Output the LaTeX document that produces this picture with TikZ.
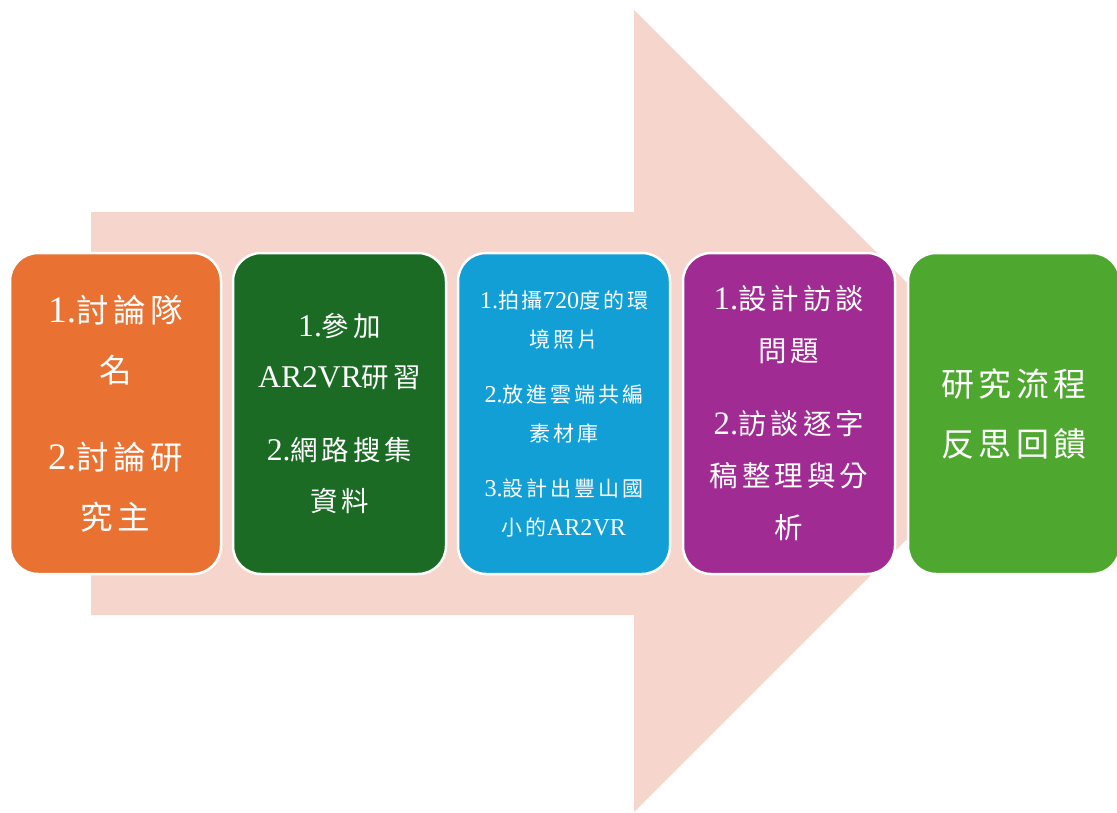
\documentclass[tikz,border=0pt]{standalone}
\usepackage{fontspec}
\setmainfont{Noto Sans CJK TC}[LetterSpace=14]
\newfontfamily\lat{Liberation Serif}[Scale=1.15]
\definecolor{arrowpink}{HTML}{F6D5CC}
\definecolor{corange}{HTML}{E97132}
\definecolor{cdkgreen}{HTML}{1B6B24}
\definecolor{cblue}{HTML}{119FD6}
\definecolor{cpurple}{HTML}{A02B93}
\definecolor{cltgreen}{HTML}{4EA72E}
\begin{document}
\begin{tikzpicture}[x=1pt,y=-1pt,
  stagebox/.style={draw=white, line width=2.5pt, rounded corners=28pt, minimum height=321pt, align=center, text=white, inner sep=0pt}]
\useasboundingbox (0,0) rectangle (1117,812);
\fill[arrowpink] (91,212) -- (634,212) -- (634,10) -- (1035,411) -- (634,812) -- (634,615) -- (91,615) -- cycle;
\node[stagebox, fill=corange, minimum width=211pt, font=\fontsize{32.5}{60}\selectfont] (b1) at (115.5,413.5)
  {{\lat 1.}討論隊\\名\\[27pt]{\lat 2.}討論研\\究主};
\node[stagebox, fill=cdkgreen, minimum width=213pt, font=\fontsize{27.5}{51}\selectfont] (b2) at (339.5,413.5)
  {{\lat 1.}參加\\{\lat AR2VR}研習\\[22pt]{\lat 2.}網路搜集\\資料};
\node[stagebox, fill=cblue, minimum width=212pt, font=\fontsize{21}{39}\selectfont] (b3) at (564,413.5)
  {{\lat 1.}拍攝{\lat 720}度的環\\境照片\\[16pt]{\lat 2.}放進雲端共編\\素材庫\\[16pt]{\lat 3.}設計出豐山國\\小的{\lat AR2VR}};
\node[stagebox, fill=cpurple, minimum width=212pt, font=\fontsize{28.5}{52}\selectfont] (b4) at (789,413.5)
  {{\lat 1.}設計訪談\\問題\\[21pt]{\lat 2.}訪談逐字\\稿整理與分\\析};
\node[stagebox, fill=cltgreen, minimum width=212pt, font=\fontsize{33}{60}\selectfont] (b5) at (1014,413.5)
  {研究流程\\反思回饋};
\end{tikzpicture}
\end{document}
